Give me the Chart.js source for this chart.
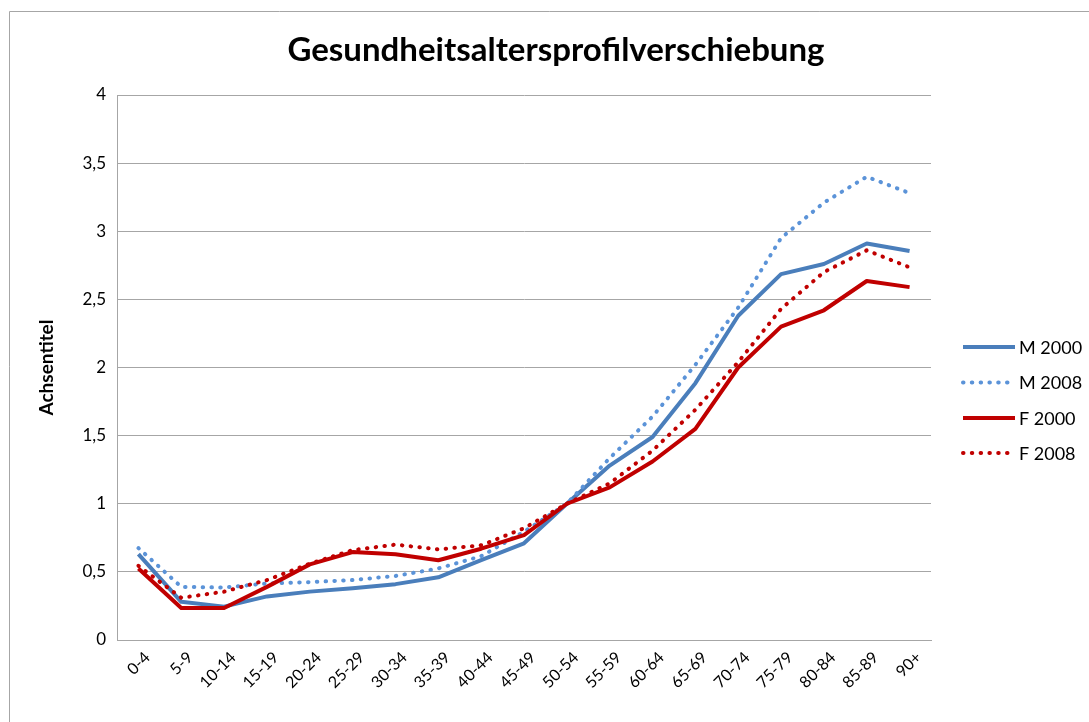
<!DOCTYPE html>
<html>
<head>
<meta charset="utf-8">
<title>Gesundheitsaltersprofilverschiebung</title>
<script src="https://cdn.jsdelivr.net/npm/chart.js@4.4.1/dist/chart.umd.min.js"></script>
<style>
    html, body { margin: 0; padding: 0; background: #ffffff; }
    #wrap { position: relative; width: 1089px; height: 722px; }
</style>
</head>
<body>
<div id="wrap"><canvas id="profileChart"></canvas></div>
<script>
const chartTitle = "Gesundheitsaltersprofilverschiebung";
const axisTitle = "Achsentitel";

const ageGroups = ["0-4", "5-9", "10-14", "15-19", "20-24", "25-29", "30-34", "35-39", "40-44", "45-49",
    "50-54", "55-59", "60-64", "65-69", "70-74", "75-79", "80-84", "85-89", "90+"];

const m2000 = [0.63, 0.28, 0.245, 0.32, 0.355, 0.38, 0.41, 0.46, 0.587, 0.71,
    1.0, 1.28, 1.49, 1.885, 2.38, 2.685, 2.76, 2.91, 2.855];
const m2008 = [0.675, 0.39, 0.385, 0.415, 0.425, 0.44, 0.47, 0.525, 0.615, 0.795,
    1.0, 1.335, 1.64, 2.02, 2.44, 2.95, 3.21, 3.4, 3.28];
const f2000 = [0.525, 0.235, 0.235, 0.39, 0.555, 0.645, 0.63, 0.585, 0.67, 0.77,
    1.0, 1.12, 1.31, 1.55, 2.0, 2.3, 2.42, 2.635, 2.59];
const f2008 = [0.545, 0.31, 0.355, 0.44, 0.56, 0.66, 0.70, 0.665, 0.695, 0.82,
    1.0, 1.15, 1.39, 1.69, 2.04, 2.43, 2.70, 2.86, 2.735];

const yMin = 0;
const yMax = 4;
const yStep = 0.5;

const fontFamily = "Lato, 'Open Sans', 'Liberation Sans', sans-serif";
const gridColor = "#a6a6a6";
const blue = "#4a7ebb";
const lightBlue = "#5b93d8";
const red = "#c00000";

function lineSet(label, data, color, dotted, order) {
    return {
        label: label,
        data: data,
        borderColor: color,
        backgroundColor: color,
        borderWidth: 4,
        borderDash: dotted ? [0.5, 8.3] : [],
        borderCapStyle: dotted ? "round" : "butt",
        borderJoinStyle: "round",
        pointRadius: 0,
        pointHoverRadius: 0,
        tension: 0,
        fill: false,
        order: order,
    };
}

// frame, title and legend are drawn by hand, the library draws the rest
const decorPlugin = {
    id: "decor",
    beforeDraw: function (chart) {
        const ctx = chart.ctx;
        ctx.save();
        ctx.strokeStyle = gridColor;
        ctx.lineWidth = 1;
        ctx.beginPath();
        ctx.moveTo(9.5, chart.height);
        ctx.lineTo(9.5, 11.5);
        ctx.lineTo(chart.width, 11.5);
        ctx.stroke();
        ctx.restore();
    },
    afterDraw: function (chart) {
        const ctx = chart.ctx;
        ctx.save();
        ctx.fillStyle = "#000000";
        ctx.font = "bold 33px " + fontFamily;
        ctx.textAlign = "center";
        ctx.textBaseline = "middle";
        ctx.fillText(chartTitle, 556, 50);

        const legendY = [347, 382.5, 418, 453];
        ctx.font = "18px " + fontFamily;
        ctx.textAlign = "left";
        chart.data.datasets.forEach(function (ds, i) {
            const y = legendY[i];
            ctx.strokeStyle = ds.borderColor;
            ctx.lineWidth = ds.borderWidth;
            ctx.lineCap = ds.borderCapStyle;
            ctx.setLineDash(ds.borderDash);
            ctx.beginPath();
            ctx.moveTo(963, y);
            ctx.lineTo(1015, y);
            ctx.stroke();
            ctx.setLineDash([]);
            ctx.fillStyle = "#000000";
            ctx.fillText(ds.label, 1019, y + 1);
        });
        ctx.restore();
    },
};

function renderChart() {
    const ctx = document.getElementById("profileChart").getContext("2d");

    new Chart(ctx, {
        type: "line",
        data: {
            labels: ageGroups,
            datasets: [
                lineSet("M 2000", m2000, blue, false, 4),
                lineSet("M 2008", m2008, lightBlue, true, 3),
                lineSet("F 2000", f2000, red, false, 2),
                lineSet("F 2008", f2008, red, true, 1),
            ],
        },
        options: {
            responsive: true,
            maintainAspectRatio: false,
            animation: false,
            layout: {
                padding: { top: 95, right: 158, bottom: 0, left: 0 },
            },
            plugins: {
                legend: { display: false },
                title: { display: false },
                tooltip: { enabled: false },
            },
            scales: {
                x: {
                    offset: true,
                    grid: { display: false, drawTicks: false },
                    border: { display: true, color: gridColor, width: 1 },
                    ticks: {
                        color: "#000000",
                        font: { family: fontFamily, size: 16 },
                        minRotation: 45,
                        maxRotation: 45,
                        autoSkip: false,
                        padding: 8,
                        labelOffset: 9,
                    },
                    afterFit: function (scale) {
                        scale.height = 82;
                    },
                },
                y: {
                    min: yMin,
                    max: yMax,
                    grid: { color: gridColor, lineWidth: 1, drawTicks: false },
                    border: { display: true, color: gridColor, width: 1 },
                    ticks: {
                        stepSize: yStep,
                        color: "#000000",
                        padding: 11,
                        font: { family: fontFamily, size: 17 },
                        callback: function (value) {
                            return String(value).replace(".", ",");
                        },
                    },
                    title: {
                        display: true,
                        text: axisTitle,
                        color: "#000000",
                        font: { family: fontFamily, size: 19, weight: "bold" },
                        padding: { top: 35, bottom: 0 },
                    },
                    afterFit: function (scale) {
                        scale.width = 117;
                    },
                },
            },
        },
        plugins: [decorPlugin],
    });
}

renderChart();
</script>
</body>
</html>
